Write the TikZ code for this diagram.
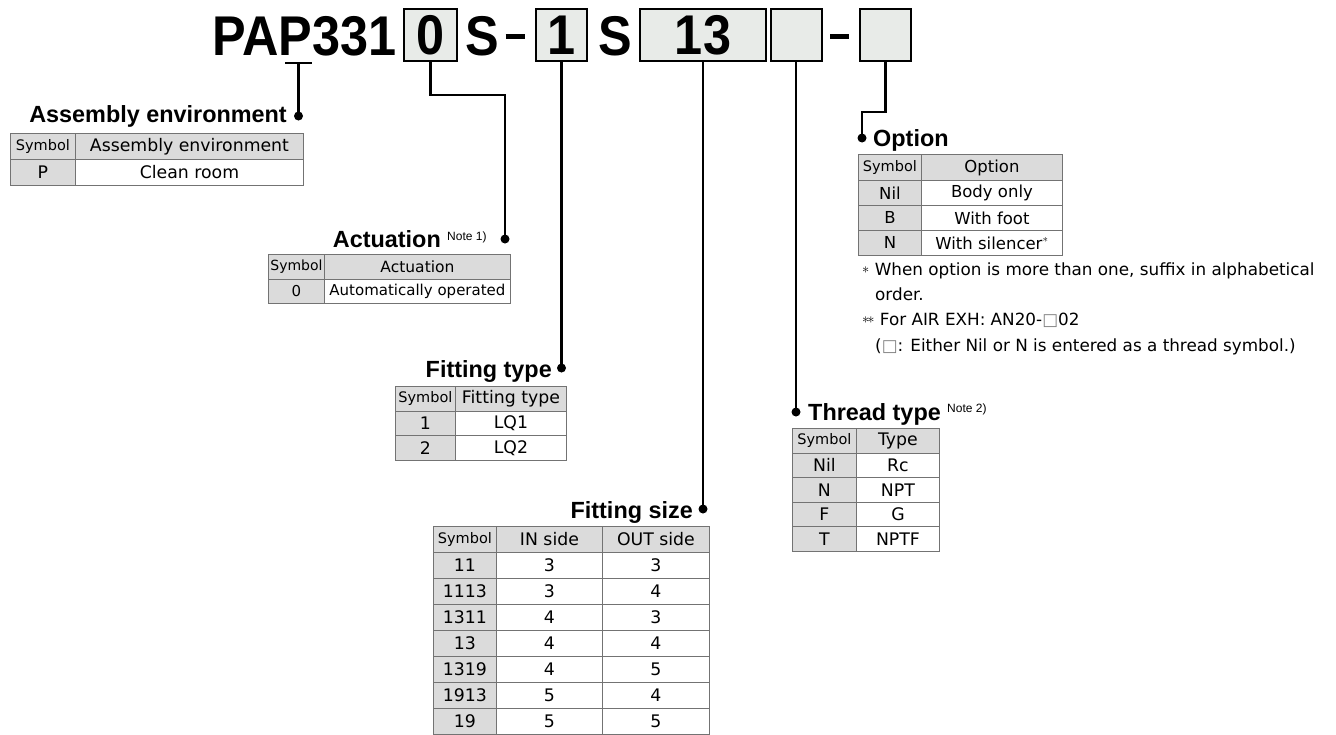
\documentclass[tikz,border=0pt]{standalone}
\usepackage{fontspec}
\setmainfont{DejaVu Sans}
\newfontfamily\codefont[FakeStretch=0.9]{Liberation Sans}
\newfontfamily\headfont{Liberation Sans}
\definecolor{cellgray}{rgb}{0.86,0.86,0.86}
\definecolor{boxgray}{rgb}{0.91,0.92,0.91}
\definecolor{rulegray}{rgb}{0.45,0.45,0.45}
\newcommand{\codetext}{\codefont\bfseries\fontsize{56}{56}\selectfont}
\newcommand{\astk}{\raisebox{1.5pt}{\fontsize{15}{15}\selectfont$\ast$}}

\tikzset{
	codebox/.style={draw=black,line width=2pt,fill=boxgray,inner sep=0pt,minimum height=52,font=\codetext},
	codechar/.style={inner sep=0pt,anchor=base west,font=\codetext},
	lead/.style={line width=2.5pt,line cap=butt},
	head/.style={inner sep=0pt,font=\headfont\bfseries\fontsize{23.4}{23.4}\selectfont},
	notemark/.style={inner sep=0pt,anchor=base west,font=\headfont\fontsize{12}{12}\selectfont},
	cell/.style={draw=rulegray,line width=0.9pt,inner sep=0pt,anchor=north west,font=\fontsize{17.3}{17.3}\selectfont},
	gcell/.style={cell,fill=cellgray},
	wcell/.style={cell,fill=white},
	symtext/.style={font=\fontsize{14.5}{14.5}\selectfont},
	remark/.style={inner sep=0pt,anchor=base west,font=\fontsize{16.8}{16.8}\selectfont}
}

\begin{document}
\begin{tikzpicture}[line join=miter,x=1pt,y=-1pt]
	\useasboundingbox (0,0) rectangle (1336,734);
	% model code
	\node[codechar] (pap) at (212,55) {PAP331};
	\node[codebox,minimum width=53] (b0) at (430.5,35) {0};
	\node[codechar] (s1) at (465,55) {S};
	\node[codechar,anchor=base] (d1) at (515,55) {\rule[16.5pt]{19pt}{5pt}};
	\node[codebox,minimum width=51] (b1) at (561.5,35) {1};
	\node[codechar] (s2) at (598,55) {S};
	\node[codebox,minimum width=126] (b13) at (703,35) {13};
	\node[codebox,minimum width=51] (bT) at (796,35) {};
	\node[codechar,anchor=base] (d2) at (839.5,55) {\rule[16.5pt]{19pt}{5pt}};
	\node[codebox,minimum width=51] (bO) at (885.5,35) {};

	% leader points
	\coordinate (uL) at (285,63);
	\coordinate (uR) at (312,63);
	\coordinate (uP) at (298.5,63);
	\coordinate (dAE) at (298.5,116);
	\coordinate (kAC) at (505,95);
	\coordinate (dAC) at (505,239);
	\coordinate (dFT) at (561.5,368);
	\coordinate (dFS) at (703,509);
	\coordinate (dTT) at (796,412);
	\coordinate (kOP) at (862,112);
	\coordinate (dOP) at (862,138);

	\draw[lead] (uL) -- (uR);
	\draw[lead] (uP) -- (dAE);
	\draw[lead] (b0.south) |- (kAC) -- (dAC);
	\draw[lead] (b1.south) -- (dFT);
	\draw[lead] (b13.south) -- (dFS);
	\draw[lead] (bT.south) -- (dTT);
	\draw[lead] (bO.south) |- (kOP) -- (dOP);
	\foreach \p in {dAE,dAC,dFT,dFS,dTT,dOP}
	\fill (\p) circle (4.5);

	% headings
	\node[head,anchor=base east] (hAE) at (287,122) {Assembly environment};
	\node[head,anchor=base east] (hAC) at (441,247) {Actuation};
	\node[notemark] (nAC) at (447,240) {Note 1)};
	\node[head,anchor=base east] (hFT) at (552,377) {Fitting type};
	\node[head,anchor=base east] (hFS) at (693,518) {Fitting size};
	\node[head,anchor=base west] (hTT) at (808,420) {Thread type};
	\node[notemark] (nTT) at (947,412) {Note 2)};
	\node[head,anchor=base west] (hOP) at (873,146) {Option};

	% assembly environment
	\node[gcell,symtext,minimum width=65,minimum height=26] (ae00) at (10,133) {Symbol};
	\node[gcell,minimum width=228,minimum height=26] (ae01) at (75,133) {Assembly environment};
	\node[gcell,minimum width=65,minimum height=26] (ae10) at (10,159) {P};
	\node[wcell,minimum width=228,minimum height=26] (ae11) at (75,159) {Clean room};

	% actuation
	\node[gcell,symtext,font=\fontsize{14}{14}\selectfont,minimum width=56,minimum height=24.5] (ac00) at (268,254) {Symbol};
	\node[gcell,font=\fontsize{15.5}{15.5}\selectfont,minimum width=186,minimum height=24.5] (ac01) at (324,254) {Actuation};
	\node[gcell,font=\fontsize{15}{15}\selectfont,minimum width=56,minimum height=24.5] (ac10) at (268,278.5) {0};
	\node[wcell,font=\fontsize{15}{15}\selectfont,minimum width=186,minimum height=24.5] (ac11) at (324,278.5) {Automatically operated};

	% fitting type
	\node[gcell,symtext,minimum width=60,minimum height=24.7] (ft00) at (395,386) {Symbol};
	\node[gcell,minimum width=111,minimum height=24.7] (ft01) at (455,386) {Fitting type};
	\foreach \s/\v [count=\i] in {1/LQ1,2/LQ2}{
		\node[gcell,minimum width=60,minimum height=24.7] (ft\i0) at (395,{386+24.7*\i}) {\s};
		\node[wcell,minimum width=111,minimum height=24.7] (ft\i1) at (455,{386+24.7*\i}) {\v};
	}

	% fitting size
	\node[gcell,symtext,minimum width=63,minimum height=26] (fs00) at (433,526) {Symbol};
	\node[gcell,minimum width=106,minimum height=26] (fs01) at (496,526) {IN side};
	\node[gcell,minimum width=107,minimum height=26] (fs02) at (602,526) {OUT side};
	\foreach \s/\a/\b [count=\i] in {11/3/3,1113/3/4,1311/4/3,13/4/4,1319/4/5,1913/5/4,19/5/5}{
		\node[gcell,minimum width=63,minimum height=26] (fs\i0) at (433,{526+26*\i}) {\s};
		\node[wcell,minimum width=106,minimum height=26] (fs\i1) at (496,{526+26*\i}) {\a};
		\node[wcell,minimum width=107,minimum height=26] (fs\i2) at (602,{526+26*\i}) {\b};
	}

	% thread type
	\node[gcell,symtext,minimum width=64,minimum height=24.6] (tt00) at (792,428) {Symbol};
	\node[gcell,minimum width=83,minimum height=24.6] (tt01) at (856,428) {Type};
	\foreach \s/\v [count=\i] in {Nil/Rc,N/NPT,F/G,T/NPTF}{
		\node[gcell,minimum width=64,minimum height=24.6] (tt\i0) at (792,{428+24.6*\i}) {\s};
		\node[wcell,minimum width=83,minimum height=24.6] (tt\i1) at (856,{428+24.6*\i}) {\v};
	}

	% option
	\node[gcell,symtext,minimum width=63,minimum height=26] (op00) at (858,154) {Symbol};
	\node[gcell,font=\fontsize{16.5}{16.5}\selectfont,minimum width=141,minimum height=26] (op01) at (921,154) {Option};
	\foreach \s/\v [count=\i] in {Nil/Body only,B/With foot,N/With silencer\textsuperscript{\fontsize{11}{11}\selectfont$\ast$}}{
		\node[gcell,font=\fontsize{16.5}{16.5}\selectfont,minimum width=63,minimum height=25] (op\i0) at (858,{155+25*\i}) {\s};
		\node[wcell,font=\fontsize{16.5}{16.5}\selectfont,minimum width=141,minimum height=25] (op\i1) at (921,{155+25*\i}) {\v};
	}

	% remarks
	\node[remark] (r1) at (862,275) {\astk\ When option is more than one, suffix in alphabetical};
	\node[remark] (r2) at (875,300) {order.};
	\node[remark] (r3) at (862,325) {\astk\kern-2pt\astk\ For AIR EXH: AN20-\textcolor{gray}{□}02};
	\node[remark] (r4) at (875,351) {(\textcolor{gray}{□}: Either Nil or N is entered as a thread symbol.)};
\end{tikzpicture}
\end{document}
